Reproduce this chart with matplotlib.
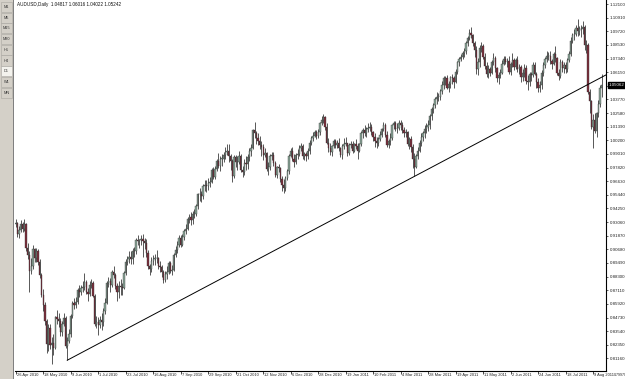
import numpy as np
import matplotlib.pyplot as plt
from matplotlib.patches import Rectangle
from matplotlib.transforms import blended_transform_factory

plt.rcParams['font.family'] = ['Liberation Sans', 'DejaVu Sans']

# daily closes, highs, lows (x 1e-4), one row per week, 26 Apr 2010 .. 16 Aug 2011
closes = [
    9300, 9200, 9240, 9290, 9250, 9290, 9080, 9020, 8880, 8920,
    9070, 8990, 9050, 8960, 8840, 8670, 8580, 8440, 8240, 8380,
    8230, 8250, 8210, 8480, 8460, 8440, 8350, 8420, 8470, 8220,
    8270, 8330, 8490, 8600, 8580, 8610, 8710, 8700, 8730, 8740,
    8780, 8700, 8680, 8760, 8770, 8660, 8420, 8430, 8410, 8450,
    8430, 8530, 8600, 8770, 8790, 8760, 8870, 8840, 8750, 8700,
    8750, 8740, 8730, 8860, 8960, 8980, 9000, 8980, 9050, 9050,
    9150, 9140, 9150, 9160, 9140, 9120, 9040, 8920, 8900, 8970,
    8980, 8990, 8990, 8920, 8910, 8870, 8800, 8850, 8870, 8950,
    8880, 8890, 9020, 9060, 9110, 9170, 9110, 9180, 9230, 9250,
    9330, 9350, 9320, 9380, 9380, 9450, 9550, 9550, 9530, 9620,
    9630, 9620, 9650, 9660, 9760, 9700, 9770, 9840, 9800, 9860,
    9860, 9890, 9920, 9930, 9880, 9840, 9710, 9870, 9830, 9830,
    9880, 9760, 9740, 9820, 9810, 9870, 9930, 9950, 10110, 10080,
    10040, 10010, 9980, 9960, 9890, 9910, 9770, 9790, 9880, 9890,
    9820, 9720, 9790, 9780, 9680, 9630, 9600, 9690, 9750, 9880,
    9930, 9860, 9830, 9890, 9900, 9950, 9970, 9880, 9900, 9880,
    9930, 10000, 10040, 10060, 10090, 10060, 10090, 10170, 10200, 10220,
    10140, 10000, 9950, 9920, 9970, 10010, 9980, 10000, 9950, 9890,
    9970, 9990, 10000, 9910, 9980, 9990, 9930, 9990, 9970, 9930,
    9990, 10080, 10110, 10080, 10120, 10130, 10140, 10090, 10050, 10010,
    10000, 10030, 10070, 10120, 10150, 10070, 9980, 10010, 10040, 10150,
    10170, 10120, 10130, 10170, 10150, 10110, 10080, 10090, 9990, 10030,
    9960, 9860, 9790, 9880, 9930, 10000, 10050, 10080, 10120, 10140,
    10150, 10230, 10290, 10330, 10380, 10400, 10400, 10450, 10500, 10560,
    10560, 10480, 10510, 10570, 10560, 10530, 10620, 10700, 10730, 10750,
    10780, 10800, 10870, 10910, 10960, 10940, 10870, 10810, 10640, 10700,
    10830, 10840, 10750, 10670, 10600, 10640, 10610, 10700, 10740, 10650,
    10560, 10590, 10610, 10690, 10730, 10700, 10710, 10620, 10690, 10720,
    10660, 10720, 10640, 10660, 10570, 10610, 10650, 10540, 10530, 10600,
    10590, 10680, 10600, 10530, 10480, 10500, 10610, 10680, 10730, 10760,
    10760, 10710, 10690, 10770, 10740, 10610, 10580, 10700, 10650, 10680,
    10640, 10720, 10770, 10890, 10940, 10950, 11000, 10970, 10990, 10990,
    11010, 10850, 10850, 10440, 10360, 10140, 10200, 10100, 10260, 10340,
    10480, 10506,
]
highs = [
    9330, 9310, 9270, 9320, 9310, 9330, 9300, 9120, 9050, 8990,
    9110, 9080, 9080, 9070, 8980, 8860, 8720, 8610, 8460, 8420,
    8420, 8300, 8330, 8490, 8540, 8510, 8470, 8440, 8510, 8490,
    8300, 8370, 8500, 8620, 8640, 8650, 8730, 8760, 8760, 8790,
    8860, 8800, 8730, 8790, 8810, 8790, 8680, 8490, 8480, 8490,
    8510, 8560, 8640, 8790, 8830, 8820, 8890, 8920, 8860, 8770,
    8790, 8810, 8770, 8880, 8980, 9010, 9050, 9050, 9080, 9090,
    9170, 9190, 9160, 9190, 9200, 9170, 9160, 9060, 8940, 9000,
    9020, 9030, 9060, 9000, 8970, 8930, 8890, 8880, 8920, 8970,
    8970, 8930, 9040, 9100, 9140, 9190, 9190, 9200, 9250, 9290,
    9350, 9380, 9390, 9400, 9420, 9460, 9560, 9600, 9580, 9640,
    9670, 9670, 9690, 9700, 9780, 9790, 9800, 9860, 9910, 9880,
    9900, 9920, 9960, 9990, 9990, 9900, 9860, 9890, 9890, 9880,
    9930, 9900, 9800, 9860, 9880, 9900, 9950, 9990, 10120, 10180,
    10100, 10080, 10060, 10010, 9990, 9950, 9920, 9830, 9900, 9920,
    9920, 9840, 9800, 9810, 9790, 9710, 9680, 9710, 9770, 9900,
    9950, 9960, 9900, 9910, 9940, 9980, 10000, 9990, 9920, 9920,
    9950, 10020, 10060, 10090, 10110, 10110, 10120, 10180, 10230, 10250,
    10230, 10170, 10040, 10000, 9980, 10030, 10030, 10020, 10040, 9960,
    9990, 10040, 10050, 10000, 10000, 10010, 10010, 10000, 10030, 10000,
    10000, 10100, 10130, 10150, 10140, 10170, 10180, 10160, 10100, 10080,
    10050, 10050, 10100, 10130, 10180, 10170, 10100, 10030, 10080, 10160,
    10190, 10190, 10170, 10200, 10200, 10180, 10140, 10120, 10100, 10050,
    10060, 9990, 9910, 9900, 9960, 10020, 10080, 10100, 10150, 10170,
    10200, 10250, 10310, 10350, 10400, 10440, 10430, 10470, 10540, 10580,
    10580, 10590, 10540, 10580, 10600, 10580, 10640, 10710, 10750, 10770,
    10800, 10830, 10890, 10930, 10990, 11012, 10950, 10890, 10840, 10740,
    10850, 10880, 10860, 10780, 10700, 10680, 10660, 10720, 10780, 10760,
    10660, 10620, 10640, 10720, 10760, 10760, 10740, 10760, 10700, 10780,
    10740, 10740, 10760, 10690, 10680, 10640, 10690, 10680, 10590, 10620,
    10620, 10700, 10700, 10620, 10560, 10540, 10630, 10700, 10750, 10800,
    10790, 10800, 10730, 10790, 10840, 10750, 10640, 10730, 10720, 10700,
    10700, 10740, 10800, 10920, 10960, 10990, 11030, 11081, 11020, 11030,
    11060, 11030, 10900, 10870, 10470, 10370, 10250, 10260, 10270, 10370,
    10500, 10602,
]
lows = [
    9260, 9180, 9170, 9220, 9220, 9230, 9050, 8980, 8700, 8850,
    8900, 8960, 8960, 8930, 8820, 8650, 8530, 8410, 8160, 8180,
    8200, 8070, 8150, 8200, 8420, 8390, 8310, 8310, 8400, 8210,
    8100, 8250, 8300, 8470, 8550, 8560, 8590, 8650, 8670, 8700,
    8710, 8680, 8620, 8660, 8730, 8650, 8400, 8380, 8320, 8380,
    8360, 8400, 8500, 8590, 8740, 8700, 8740, 8820, 8720, 8620,
    8640, 8670, 8670, 8720, 8840, 8930, 8950, 8940, 8940, 9000,
    9030, 9110, 9080, 9110, 9000, 9070, 9000, 8900, 8840, 8870,
    8930, 8930, 8950, 8900, 8870, 8830, 8770, 8780, 8810, 8850,
    8860, 8840, 8880, 9000, 9040, 9090, 9090, 9100, 9150, 9200,
    9240, 9300, 9280, 9290, 9340, 9360, 9420, 9490, 9480, 9510,
    9580, 9570, 9590, 9610, 9650, 9680, 9680, 9750, 9780, 9750,
    9800, 9830, 9860, 9890, 9830, 9760, 9660, 9690, 9790, 9760,
    9810, 9740, 9700, 9720, 9760, 9770, 9840, 9880, 9940, 10040,
    9990, 9980, 9940, 9880, 9850, 9870, 9750, 9720, 9760, 9850,
    9800, 9700, 9690, 9740, 9660, 9580, 9560, 9580, 9670, 9730,
    9870, 9840, 9790, 9810, 9860, 9880, 9930, 9860, 9850, 9840,
    9860, 9900, 9980, 10010, 10050, 10030, 10040, 10070, 10150, 10170,
    10110, 9990, 9920, 9890, 9880, 9950, 9950, 9950, 9930, 9870,
    9860, 9940, 9970, 9880, 9890, 9950, 9910, 9920, 9940, 9860,
    9920, 9970, 10040, 10060, 10050, 10090, 10100, 10070, 10010, 9960,
    9950, 9970, 10010, 10050, 10100, 10050, 9960, 9950, 9980, 10020,
    10120, 10100, 10080, 10110, 10110, 10080, 10050, 10050, 9970, 9940,
    9920, 9780, 9705, 9780, 9860, 9920, 9970, 10010, 10040, 10080,
    10100, 10120, 10200, 10260, 10300, 10340, 10360, 10370, 10420, 10470,
    10500, 10470, 10440, 10480, 10510, 10480, 10520, 10600, 10670, 10710,
    10730, 10750, 10770, 10840, 10900, 10910, 10840, 10750, 10600, 10590,
    10660, 10790, 10730, 10640, 10570, 10560, 10580, 10600, 10680, 10620,
    10530, 10510, 10560, 10600, 10680, 10690, 10660, 10600, 10590, 10660,
    10630, 10640, 10620, 10600, 10530, 10540, 10570, 10510, 10460, 10490,
    10540, 10570, 10590, 10480, 10440, 10440, 10470, 10580, 10650, 10700,
    10720, 10690, 10640, 10680, 10700, 10590, 10550, 10560, 10620, 10610,
    10610, 10620, 10700, 10760, 10870, 10900, 10930, 10930, 10940, 10920,
    10950, 10810, 10780, 10420, 10260, 10120, 9950, 10080, 10050, 10220,
    10310, 10402,
]
first_open = 9290

date_bars = [0, 16, 32, 48, 64, 80, 96, 112, 128, 144, 160, 176,
             192, 208, 224, 240, 256, 272, 288, 304, 320, 336]
date_labels = ['26 Apr 2010', '18 May 2010', '9 Jun 2010', '1 Jul 2010', '23 Jul 2010',
               '16 Aug 2010', '7 Sep 2010', '29 Sep 2010', '21 Oct 2010', '12 Nov 2010',
               '6 Dec 2010', '28 Dec 2010', '19 Jan 2011', '10 Feb 2011', '4 Mar 2011',
               '28 Mar 2011', '19 Apr 2011', '11 May 2011', '2 Jun 2011', '24 Jun 2011',
               '18 Jul 2011', '9 Aug 2011']
price_ticks = [0.79970 + 0.0119 * k for k in range(28)]
price_labels = ['%.5f' % p for p in price_ticks]

trend_bars = [30, 232]
trend_prices = [0.8100, 0.9705]

header = 'AUDUSD,Daily  1.04817 1.06016 1.04022 1.05242'
last_price = '1.05062'
periods = ['M1', 'M5', 'M15', 'M30', 'H1', 'H4', 'D1', 'W1', 'MN']

c = np.array(closes) / 10000.0
h = np.array(highs) / 10000.0
l = np.array(lows) / 10000.0
o = np.concatenate([[first_open / 10000.0], c[:-1]])
x = np.arange(len(c))

W, H = 625, 379
fig = plt.figure(figsize=(W / 100, H / 100), dpi=100)
fig.patch.set_facecolor('white')

# left period toolbar
fig.patches.append(Rectangle((0, 0), 13 / W, 1, transform=fig.transFigure,
                             facecolor='#d4d0c8', edgecolor='none'))
fig.patches.append(Rectangle((13 / W, 0), 1.2 / W, 1, transform=fig.transFigure,
                             facecolor='#808080', edgecolor='none'))
for i, p in enumerate(periods):
    yc = 7 + 10.7 * i
    fc = '#f4f3ee' if p == 'D1' else '#d4d0c8'
    fig.patches.append(Rectangle((1 / W, 1 - (yc + 5) / H), 11 / W, 10 / H,
                                 transform=fig.transFigure, facecolor=fc,
                                 edgecolor='#a8a5a0', lw=0.4))
    fig.text(6.5 / W, 1 - yc / H, p, fontsize=2.8, ha='center', va='center', color='#333333')

ax = fig.add_axes([15 / W, 8 / H, (606 - 15) / W, (H - 8) / H])
ax.set_facecolor('white')

up = c >= o
body_lo = np.minimum(o, c)
body_h = np.maximum(np.abs(c - o), 0.0003)
ax.vlines(x, l, h, color='#2b2b2b', lw=0.55, zorder=2)
ax.bar(x[up], body_h[up], bottom=body_lo[up], width=0.75, color='#8aa597',
       edgecolor='#2b2b2b', lw=0.25, zorder=3)
ax.bar(x[~up], body_h[~up], bottom=body_lo[~up], width=0.75, color='#7d2f3d',
       edgecolor='#2b2b2b', lw=0.25, zorder=3)

# trend line drawn as a ray from the first anchor
xmax = 343.5
slope = (trend_prices[1] - trend_prices[0]) / (trend_bars[1] - trend_bars[0])
ax.plot([trend_bars[0], xmax],
        [trend_prices[0], trend_prices[0] + slope * (xmax - trend_bars[0])],
        color='black', lw=0.7, zorder=4)

ax.set_xlim(-0.4, xmax)
ax.set_ylim(0.8006, 1.1245)

for s in ['top', 'left']:
    ax.spines[s].set_visible(False)
ax.spines['right'].set_linewidth(0.8)
ax.spines['bottom'].set_linewidth(0.8)

# the label under the current price box is hidden, as the terminal does
shown = [lab if abs(p - float(last_price)) > 0.005 else '' for p, lab in zip(price_ticks, price_labels)]
ax.yaxis.tick_right()
ax.set_yticks(price_ticks[1:])
ax.set_yticklabels(shown[1:])
ax.tick_params(axis='y', length=1.5, width=0.5, pad=1.0, labelsize=3.2, colors='#222222')
ax.set_xticks(date_bars)
ax.set_xticklabels([])
ax.tick_params(axis='x', length=2, width=0.5, direction='out')

tr = blended_transform_factory(ax.transData, fig.transFigure)
for b, lab in zip(date_bars, date_labels):
    ax.text(b + 0.6, 3.8 / H, lab, transform=tr, fontsize=2.9, ha='left', va='center',
            color='#222222')
fig.text(614 / W, 1 - 375.5 / H, price_labels[0], fontsize=2.6, ha='left', va='center',
         color='#222222')

# current price marker
ytr = blended_transform_factory(fig.transFigure, ax.transData)
ax.text(608.5 / W, float(last_price), last_price, transform=ytr, fontsize=3.2,
        ha='left', va='center', color='white',
        bbox=dict(boxstyle='square,pad=0.2', facecolor='black', edgecolor='black'))

fig.text(17 / W, 1 - 4.5 / H, header, fontsize=3.3, ha='left', va='center', color='#111111')

fig.savefig('out.png', dpi=100)
